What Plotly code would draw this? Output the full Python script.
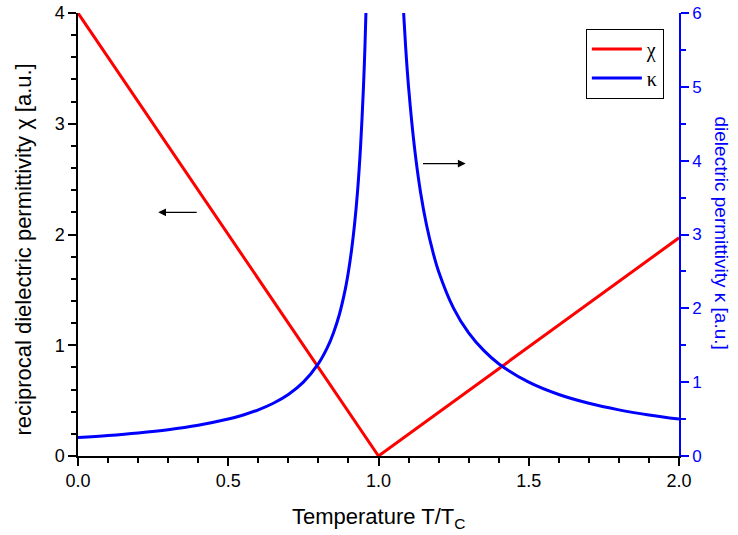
import plotly.graph_objects as go

# reciprocal permittivity chi (left axis)
chi_t = [0.0, 1.0, 2.0]
chi_vals = [4.0, 0.0, 1.97]

# permittivity kappa (right axis); None splits the two branches
kappa_t = [0.0, 0.1, 0.2, 0.3, 0.4, 0.5, 0.55, 0.6, 0.65, 0.7, 0.75, 0.8, 0.83, 0.85,
           0.87, 0.89, 0.9, 0.91, 0.92, 0.93, 0.94, 0.95, 0.955, 0.96,
           None,
           1.08, 1.09, 1.1, 1.12, 1.14, 1.16, 1.18, 1.2, 1.25, 1.3, 1.35, 1.4, 1.5,
           1.6, 1.7, 1.8, 1.9, 2.0]
kappa_vals = [0.25, 0.278, 0.313, 0.357, 0.417, 0.5, 0.556, 0.625, 0.714, 0.833, 1.0, 1.25, 1.47, 1.667,
              1.92, 2.27, 2.5, 2.78, 3.125, 3.57, 4.17, 5.0, 5.56, 6.25,
              None,
              6.25, 5.56, 5.0, 4.17, 3.57, 3.125, 2.78, 2.5, 2.0, 1.667, 1.43, 1.25, 1.0,
              0.833, 0.714, 0.625, 0.556, 0.5]

x_ticks = [0.0, 0.5, 1.0, 1.5, 2.0]
x_labels = ["0.0", "0.5", "1.0", "1.5", "2.0"]

font_name = "Liberation Sans, Arial, sans-serif"

fig = go.Figure()

fig.add_trace(go.Scatter(x=chi_t, y=chi_vals, mode="lines", name="χ",
                         line=dict(color="#ff0000", width=3)))
fig.add_trace(go.Scatter(x=kappa_t, y=kappa_vals, mode="lines", name="κ", yaxis="y2",
                         connectgaps=False,
                         line=dict(color="#0000ff", width=3, shape="spline", smoothing=1.0)))

fig.update_layout(
    width=738, height=535,
    margin=dict(l=78, r=59, t=13, b=79, autoexpand=False),
    paper_bgcolor="white", plot_bgcolor="white",
    font=dict(family=font_name, size=18, color="black"),
    showlegend=True,
    legend=dict(x=0.845, y=0.965, xanchor="left", yanchor="top",
                bordercolor="black", borderwidth=1, bgcolor="white",
                font=dict(size=20, family="Liberation Serif, Times New Roman, serif"),
                itemwidth=50, tracegroupgap=0),
    xaxis=dict(range=[0, 2], tickvals=x_ticks, ticktext=x_labels, automargin=False,
               showline=True, linecolor="black", linewidth=1.5, mirror=False,
               ticks="outside", ticklen=8, tickwidth=1.5, tickcolor="black",
               minor=dict(dtick=0.1, ticks="outside", ticklen=5, tickwidth=1.5, tickcolor="black"),
               showgrid=False, zeroline=False,
               tickfont=dict(size=18)),
    xaxis2=dict(range=[0, 2], overlaying="x", side="top", anchor="y", automargin=False,
                tickvals=x_ticks, showticklabels=False,
                showline=True, linecolor="black", linewidth=1.5,
                ticks="inside", ticklen=8, tickwidth=1.5, tickcolor="black",
                minor=dict(dtick=0.1, ticks="inside", ticklen=5, tickwidth=1.5, tickcolor="black"),
                showgrid=False, zeroline=False),
    yaxis=dict(range=[0, 4], dtick=1, automargin=False,
               showline=True, linecolor="black", linewidth=1.5,
               ticks="outside", ticklen=8, tickwidth=1.5, tickcolor="black",
               minor=dict(dtick=0.2, ticks="outside", ticklen=5, tickwidth=1.5, tickcolor="black"),
               showgrid=False, zeroline=False, tickfont=dict(size=18)),
    yaxis2=dict(range=[0, 6], dtick=1, overlaying="y", side="right", automargin=False,
                showline=True, linecolor="#0000ff", linewidth=1.5,
                ticks="outside", ticklen=8, tickwidth=1.5, tickcolor="#0000ff",
                minor=dict(dtick=0.5, ticks="outside", ticklen=5, tickwidth=1.5, tickcolor="#0000ff"),
                showgrid=False, zeroline=False,
                tickfont=dict(size=17, color="#0000ff")),
)

# axis titles as annotations so they sit where the original has them
fig.add_annotation(text="Temperature T/T<sub>C</sub>", xref="paper", yref="paper",
                   x=0.5, y=0, yshift=-46, xanchor="center", yanchor="top",
                   showarrow=False, font=dict(size=22))
fig.add_annotation(text="reciprocal dielectric permittivity χ [a.u.]", xref="paper", yref="paper",
                   x=0, xshift=-55, y=0.5, yshift=-15, xanchor="center", yanchor="middle",
                   textangle=-90, showarrow=False, font=dict(size=22))
# right axis title reads top to bottom
fig.add_annotation(text="dielectric permittivity κ [a.u.]", xref="paper", yref="paper",
                   x=1.0, xshift=42, y=0.5, yshift=2, xanchor="center", yanchor="middle",
                   textangle=90, showarrow=False,
                   font=dict(size=19, color="#0000ff"))

# arrows pointing at the axis each curve belongs to
fig.add_annotation(x=0.267, y=2.2, ax=0.40, ay=2.2, xref="x", yref="y", axref="x", ayref="y",
                   text="", showarrow=True, arrowhead=2, arrowsize=1.3, arrowwidth=1.2,
                   arrowcolor="black")
fig.add_annotation(x=1.29, y=2.64, ax=1.143, ay=2.64, xref="x", yref="y", axref="x", ayref="y",
                   text="", showarrow=True, arrowhead=2, arrowsize=1.3, arrowwidth=1.2,
                   arrowcolor="black")

# drop the default 8px body margin so the figure starts at the window corner
fig.write_html("out.html", config={"displayModeBar": False},
               post_script="document.body.style.margin='0';document.body.style.overflow='hidden';")
